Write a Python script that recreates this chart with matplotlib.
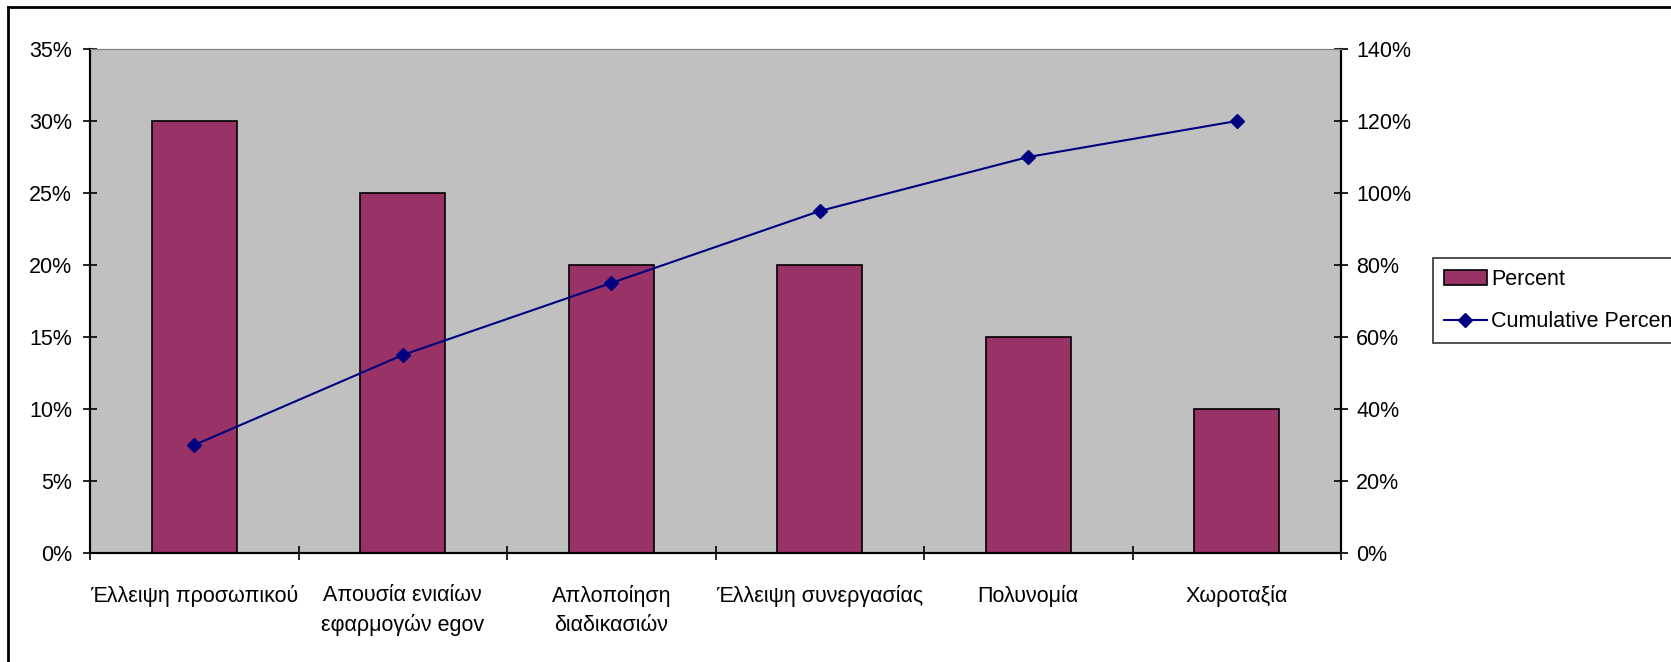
import numpy as np
import matplotlib
matplotlib.use("Agg")
import matplotlib.pyplot as plt
from matplotlib.lines import Line2D
from matplotlib.ticker import FuncFormatter, MultipleLocator

categories = ["Έλλειψη προσωπικού", "Απουσία ενιαίων\nεφαρμογών egov", "Απλοποίηση\nδιαδικασιών",
              "Έλλειψη συνεργασίας", "Πολυνομία", "Χωροταξία"]
percent = [30, 25, 20, 20, 15, 10]
cumulative = [30, 55, 75, 95, 110, 120]

plt.rcParams['font.family'] = ['Liberation Sans', 'DejaVu Sans']
fs = 15.5

fig = plt.figure(figsize=(16.71, 6.62), dpi=100)
ax = fig.add_axes([90/1671, 1-553/662, (1341-90)/1671, (553-49)/662])
ax.set_facecolor('#C0C0C0')

x = np.arange(len(categories))
bars = ax.bar(x, percent, width=0.41, color='#993366', edgecolor='black', linewidth=1.2, label='Percent', zorder=2)
ax.set_xlim(-0.5, len(categories)-0.5)
ax.set_ylim(0, 35)
ax.yaxis.set_major_locator(MultipleLocator(5))
ax.yaxis.set_major_formatter(FuncFormatter(lambda v, p: f"{v:.0f}%"))
ax.set_xticks(x)
ax.set_xticklabels(categories, fontsize=fs, linespacing=1.5)
ax.set_xticks(np.arange(len(categories)+1)-0.5, minor=True)
ax.tick_params(axis='x', which='major', length=0, pad=23)
ax.tick_params(axis='x', which='minor', length=10, width=1.2, direction='inout')
ax.tick_params(axis='y', direction='inout', length=10, width=1.2, labelsize=fs, pad=8)

ax2 = ax.twinx()
line, = ax2.plot(x, cumulative, color='#000080', marker='D', markersize=7, linewidth=1.5, label='Cumulative Percent')
ax2.set_ylim(0, 140)
ax2.yaxis.set_major_locator(MultipleLocator(20))
ax2.yaxis.set_major_formatter(FuncFormatter(lambda v, p: f"{v:.0f}%"))
ax2.tick_params(axis='y', direction='inout', length=10, width=1.2, labelsize=fs, pad=6)

for a in (ax, ax2):
    a.spines['top'].set_color('#808080')
    a.spines['left'].set_linewidth(1.5)
    a.spines['right'].set_linewidth(1.5)
    a.spines['bottom'].set_linewidth(1.5)

leg = fig.legend(handles=[bars, line], labels=['Percent', 'Cumulative Percent'],
                 loc='upper left', bbox_to_anchor=(1433/1671, 1-258/662), fontsize=fs,
                 frameon=True, fancybox=False, edgecolor='black', borderaxespad=0,
                 handlelength=2.0, handleheight=0.7, borderpad=0.5, labelspacing=1.0, handletextpad=0.2)
leg.get_frame().set_linewidth(1.2)

# outer chart border (top and left visible)
fig.add_artist(Line2D([8/1671, 8/1671], [0, 1-7/662], transform=fig.transFigure, color='black', linewidth=2))
fig.add_artist(Line2D([8/1671, 1], [1-7/662, 1-7/662], transform=fig.transFigure, color='black', linewidth=2))

fig.savefig('out.png', dpi=100)
